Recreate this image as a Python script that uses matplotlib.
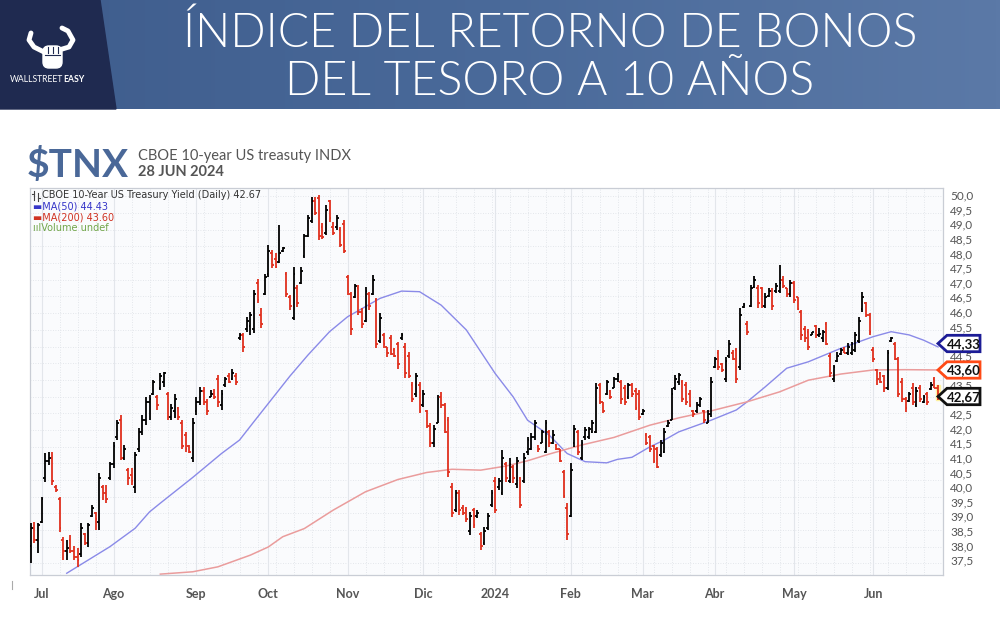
import numpy as np
import matplotlib
matplotlib.use('Agg')
import matplotlib.pyplot as plt
from matplotlib.patches import Polygon, Rectangle, FancyBboxPatch
from matplotlib.colors import LinearSegmentedColormap

# daily OHLC of $TNX, 28 Jun 2023 - 28 Jun 2024
high = [38.76, 38.82, 38.76, 39.67, 41.16, 41.21, 41.21, 40.07, 39.67, 38.30,
        38.19, 38.36, 38.00, 37.90, 38.76, 38.42, 38.76, 39.39, 39.16, 40.47,
        40.07, 40.07, 40.87, 41.56, 42.30, 42.47, 41.44, 40.64, 40.64, 41.21,
        42.01, 42.47, 43.10, 43.15, 43.67, 43.15, 43.89, 43.95, 43.26, 42.86,
        43.20, 42.75, 42.29, 41.89, 41.44, 42.35, 43.09, 43.43, 43.43, 43.03,
        43.32, 43.37, 43.83, 43.32, 43.78, 43.89, 44.06, 43.89, 45.26, 45.26,
        45.83, 46.00, 46.74, 47.14, 46.12, 47.28, 48.29, 48.12, 48.00, 48.97,
        48.23, 47.37, 46.57, 47.54, 46.92, 47.54, 48.68, 49.31, 49.94, 49.94,
        50.00, 49.03, 49.66, 49.83, 49.08, 49.31, 48.91, 49.14, 47.26, 46.69,
        46.97, 46.92, 46.12, 46.86, 46.69, 47.26, 46.46, 45.95, 45.26, 44.80,
        45.20, 44.75, 44.97, 45.26, 44.92, 44.63, 43.60, 43.89, 43.61, 43.33,
        42.64, 42.18, 42.13, 43.15, 43.27, 42.87, 42.41, 40.13, 39.90, 39.90,
        39.39, 39.33, 39.16, 39.27, 39.21, 38.47, 38.64, 39.10, 39.90, 40.36,
        40.30, 41.27, 40.87, 40.99, 40.76, 41.04, 40.36, 41.16, 41.73, 41.84,
        42.30, 41.44, 41.95, 42.30, 41.95, 41.95, 41.49, 41.32, 40.58, 39.44,
        40.81, 42.12, 41.95, 41.61, 42.06, 42.06, 42.29, 43.55, 43.55, 42.92,
        43.66, 43.32, 43.78, 43.89, 43.66, 43.49, 43.55, 43.55, 43.38, 43.32,
        42.69, 41.84, 41.78, 41.44, 41.38, 41.61, 42.01, 42.29, 43.38, 43.84,
        43.90, 43.67, 43.61, 43.33, 42.64, 42.93, 43.10, 42.64, 42.64, 43.78,
        44.47, 44.70, 44.24, 44.47, 45.04, 44.70, 44.75, 46.12, 46.29, 45.67,
        46.92, 47.21, 46.92, 46.86, 46.64, 46.81, 46.81, 46.98, 47.61, 47.21,
        46.81, 47.09, 47.04, 46.52, 46.07, 45.50, 45.40, 45.32, 45.55, 45.43,
        45.38, 45.66, 44.58, 44.18, 44.64, 44.75, 44.81, 44.92, 44.98, 45.32,
        45.83, 46.69, 46.35, 45.95, 44.81, 44.06, 43.95, 43.84, 44.69, 45.15,
        44.98, 44.46, 43.72, 43.09, 43.27, 43.55, 43.44, 43.49, 43.15, 43.27,
        43.61, 43.78, 43.49]
low = [37.39, 38.07, 37.73, 38.76, 40.19, 40.76, 40.07, 39.84, 38.47, 37.50,
       37.50, 37.73, 37.50, 37.27, 37.62, 38.02, 37.96, 38.99, 38.53, 38.53,
       39.56, 39.44, 40.24, 40.64, 41.61, 40.93, 40.93, 40.07, 40.07, 39.79,
       41.21, 41.78, 42.13, 42.30, 43.15, 42.64, 43.32, 43.43, 42.29, 42.29,
       42.35, 42.29, 41.32, 41.21, 41.15, 40.87, 42.46, 42.81, 42.81, 42.46,
       43.09, 43.03, 42.75, 42.64, 43.43, 43.55, 43.66, 43.49, 45.03, 44.63,
       45.32, 45.20, 45.26, 46.29, 45.43, 46.57, 47.20, 47.49, 47.49, 47.66,
       48.06, 46.52, 46.06, 45.72, 46.17, 46.97, 47.85, 48.57, 49.03, 49.31,
       48.46, 48.51, 48.63, 49.08, 48.63, 48.80, 48.23, 48.00, 46.57, 45.20,
       46.46, 45.89, 45.43, 45.66, 46.06, 46.57, 44.75, 44.92, 44.75, 44.46,
       44.52, 44.46, 44.06, 45.03, 43.72, 43.72, 42.92, 43.09, 42.53, 42.75,
       42.01, 41.38, 41.38, 42.18, 42.70, 41.84, 40.36, 38.99, 39.16, 39.04,
       39.04, 38.82, 38.36, 38.59, 38.93, 37.85, 38.02, 38.53, 39.33, 39.10,
       39.90, 39.73, 40.19, 40.13, 40.13, 39.96, 39.27, 40.13, 41.10, 41.27,
       41.61, 41.21, 41.50, 41.16, 41.38, 41.49, 41.27, 40.87, 39.61, 38.18,
       38.98, 41.38, 41.09, 40.92, 41.61, 41.66, 41.84, 41.84, 42.86, 42.52,
       43.15, 43.03, 43.38, 43.61, 42.86, 42.81, 43.03, 43.09, 42.64, 42.29,
       42.46, 41.44, 41.21, 40.81, 40.64, 41.04, 41.15, 42.06, 42.29, 43.33,
       43.50, 42.93, 42.81, 42.75, 42.41, 42.53, 42.75, 42.18, 42.18, 42.41,
       44.07, 44.01, 43.95, 43.61, 44.41, 44.35, 43.55, 44.01, 46.12, 45.21,
       46.18, 46.81, 46.12, 46.12, 46.12, 46.52, 46.07, 46.64, 46.64, 46.81,
       46.52, 46.52, 46.29, 46.07, 45.04, 44.98, 44.70, 45.21, 45.09, 45.15,
       44.98, 44.86, 43.78, 43.61, 44.29, 44.52, 44.58, 44.52, 44.52, 44.64,
       44.92, 46.00, 45.83, 45.21, 44.29, 43.49, 43.55, 43.27, 43.32, 44.98,
       44.35, 43.09, 42.92, 42.58, 42.92, 42.81, 42.75, 42.92, 42.87, 42.81,
       43.32, 43.38, 42.98]
open_ = [38.0, 38.6, 38.2, 38.8, 40.3, 40.9, 41.0, 40.0, 39.6, 38.2,
         37.8, 38.2, 37.8, 37.6, 37.7, 38.4, 38.1, 39.0, 39.1, 38.8,
         40.0, 39.8, 40.3, 40.8, 41.7, 42.3, 41.0, 40.6, 40.4, 40.0,
         41.3, 41.9, 42.3, 42.9, 43.2, 43.1, 43.4, 43.6, 43.2, 42.4,
         42.6, 42.7, 42.2, 41.8, 41.4, 41.0, 42.6, 42.9, 43.3, 42.9,
         43.1, 43.2, 43.7, 42.8, 43.5, 43.8, 43.7, 43.8, 45.1, 45.2,
         45.4, 45.5, 45.4, 47.0, 45.9, 46.6, 47.3, 48.0, 47.8, 47.7,
         48.1, 47.3, 46.5, 45.8, 46.8, 47.0, 47.9, 48.6, 49.1, 49.8,
         49.9, 48.9, 48.7, 49.8, 48.9, 48.9, 48.8, 49.0, 47.2, 46.6,
         46.5, 46.8, 46.0, 45.7, 46.6, 46.6, 46.4, 45.0, 45.2, 44.8,
         45.1, 44.7, 44.9, 45.1, 44.8, 44.5, 43.5, 43.2, 43.5, 42.8,
         42.6, 42.1, 41.5, 42.2, 43.1, 42.8, 42.3, 40.0, 39.2, 39.8,
         39.3, 39.2, 38.5, 39.2, 39.0, 38.4, 38.1, 38.6, 39.4, 40.2,
         40.0, 39.8, 40.8, 40.2, 40.7, 40.1, 40.3, 40.2, 41.2, 41.3,
         41.7, 41.4, 41.5, 41.2, 41.9, 41.5, 41.45, 41.3, 40.5, 39.3,
         39.0, 41.5, 41.9, 41.0, 41.7, 41.7, 41.9, 41.9, 43.5, 42.9,
         43.2, 43.3, 43.4, 43.7, 43.6, 43.4, 43.1, 43.5, 43.3, 43.2,
         42.5, 41.8, 41.7, 41.4, 41.3, 41.1, 41.2, 42.1, 42.3, 43.4,
         43.6, 43.6, 43.5, 43.2, 42.6, 42.6, 42.8, 42.6, 42.2, 42.5,
         44.1, 44.6, 44.2, 43.7, 44.5, 44.6, 44.7, 44.1, 46.15, 45.6,
         46.2, 46.85, 46.8, 46.8, 46.2, 46.55, 46.7, 46.7, 46.7, 47.1,
         46.8, 46.6, 47.0, 46.5, 46.0, 45.4, 45.3, 45.2, 45.5, 45.2,
         45.1, 45.6, 44.5, 43.7, 44.3, 44.55, 44.75, 44.6, 44.6, 44.7,
         45.0, 46.1, 46.3, 45.9, 44.7, 44.0, 43.9, 43.8, 43.4, 45.0,
         44.9, 44.4, 43.6, 43.0, 42.95, 43.4, 42.8, 43.4, 42.9, 43.2,
         43.35, 43.7, 43.4]
close = [38.6, 38.2, 38.7, 39.6, 40.9, 41.0, 40.2, 39.9, 38.6, 37.8,
         37.9, 37.8, 37.6, 37.5, 38.6, 38.1, 38.7, 39.3, 38.9, 40.3,
         39.8, 39.6, 40.8, 41.4, 42.2, 41.0, 41.3, 40.3, 40.2, 41.1,
         41.9, 42.3, 42.9, 43.0, 43.6, 42.8, 43.8, 43.9, 42.4, 42.7,
         43.0, 42.4, 41.4, 41.3, 41.2, 42.2, 42.9, 43.3, 42.9, 42.6,
         43.2, 43.1, 42.9, 43.2, 43.7, 43.6, 43.9, 43.6, 45.2, 44.8,
         45.7, 45.9, 46.6, 46.4, 45.6, 47.2, 48.1, 47.6, 47.55, 48.0,
         48.2, 46.6, 46.2, 47.3, 46.3, 47.4, 48.6, 49.2, 49.8, 49.4,
         48.6, 48.55, 49.5, 49.2, 48.7, 49.2, 48.3, 48.1, 46.7, 45.4,
         46.9, 46.0, 45.6, 46.7, 46.2, 47.1, 44.9, 45.8, 44.9, 44.6,
         44.55, 44.5, 44.2, 45.2, 43.9, 43.8, 43.0, 43.8, 42.6, 43.2,
         42.1, 41.5, 42.0, 43.0, 42.8, 41.9, 40.5, 39.1, 39.8, 39.2,
         39.1, 38.9, 39.0, 38.7, 39.1, 38.0, 38.5, 39.0, 39.8, 39.2,
         40.2, 41.0, 40.3, 40.8, 40.3, 40.9, 39.4, 41.0, 41.6, 41.7,
         42.2, 41.3, 41.9, 42.2, 41.5, 41.8, 41.3, 40.9, 39.7, 38.4,
         40.6, 42.0, 41.2, 41.5, 41.95, 42.0, 42.2, 43.4, 42.9, 42.6,
         43.6, 43.1, 43.7, 43.8, 43.0, 42.9, 43.5, 43.2, 42.7, 42.4,
         42.6, 41.5, 41.3, 40.9, 40.7, 41.5, 41.9, 42.2, 43.2, 43.7,
         43.85, 43.0, 42.9, 42.8, 42.5, 42.8, 43.0, 42.3, 42.5, 43.6,
         44.4, 44.1, 44.0, 44.3, 44.9, 44.4, 43.7, 45.9, 46.25, 45.3,
         46.8, 47.1, 46.3, 46.2, 46.5, 46.7, 46.2, 46.9, 47.0, 46.9,
         46.6, 47.0, 46.4, 46.1, 45.2, 45.1, 44.8, 45.3, 45.2, 45.25,
         45.3, 44.9, 43.9, 44.1, 44.5, 44.7, 44.6, 44.8, 44.9, 45.2,
         45.7, 46.5, 45.9, 45.3, 44.4, 43.7, 43.6, 43.4, 44.6, 45.1,
         44.4, 43.2, 43.0, 42.7, 43.2, 42.9, 43.3, 43.0, 43.1, 42.9,
         43.5, 43.4, 43.05]

# moving averages (bar index, value)
ma50_idx = [10, 22, 29, 33, 36, 45, 53, 58, 62, 72, 77, 83, 88, 97, 103, 108, 114,
            121, 129, 134, 138, 144, 149, 154, 160, 163, 167, 172, 176, 180, 189,
            196, 199, 204, 210, 216, 225, 234, 239, 244, 248, 252]
ma50_val = [37.05, 37.96, 38.59, 39.15, 39.45, 40.33, 41.15, 41.61, 42.24, 43.80,
            44.52, 45.32, 45.83, 46.46, 46.71, 46.69, 46.23, 45.38, 43.89, 43.09,
            42.29, 41.78, 41.15, 40.87, 40.83, 40.95, 41.02, 41.38, 41.61, 41.89,
            42.29, 42.64, 42.92, 43.43, 44.07, 44.29, 44.75, 45.15, 45.32, 45.21,
            45.03, 44.80]
ma200_idx = [36, 45, 52, 61, 66, 70, 76, 84, 93, 102, 110, 117, 125, 132, 138, 144,
             153, 162, 172, 180, 189, 199, 208, 216, 225, 234, 243, 252]
ma200_val = [37.02, 37.10, 37.27, 37.67, 37.95, 38.30, 38.58, 39.21, 39.84, 40.26,
             40.50, 40.61, 40.58, 40.72, 40.90, 41.13, 41.44, 41.70, 42.12, 42.37,
             42.61, 42.92, 43.26, 43.66, 43.87, 44.01, 44.02, 44.01]

month_idx = [3, 23, 46, 66, 88, 109, 129, 150, 170, 190, 212, 234]
month_lbl = ['Jul', 'Ago', 'Sep', 'Oct', 'Nov', 'Dic', '2024', 'Feb', 'Mar', 'Abr', 'May', 'Jun']
yticks = np.arange(37.5, 50.01, 0.5)
hidden_ticks = [43.0, 44.0, 45.0]   # covered by the value tags in the original

RED = '#e0301e'
W, H = 1000, 619

fig = plt.figure(figsize=(10, 6.19), dpi=100)
fig.patch.set_facecolor('white')

# background / decoration layer in pixel coords
deco = fig.add_axes([0, 0, 1, 1], zorder=0)
deco.set_xlim(0, W)
deco.set_ylim(H, 0)
deco.axis('off')

cmap = LinearSegmentedColormap.from_list('hdr', ['#3e5c8c', '#4a6a9a', '#5b79a7'])
deco.imshow(np.linspace(0, 1, 256)[None, :], cmap=cmap, aspect='auto',
            extent=[0, W, 109, 0], zorder=0)
deco.add_patch(Polygon([(0, 0), (100, 0), (116, 109), (0, 109)], closed=True,
                       color='#1f2a50', zorder=1))

# logo (simple bull fist)
deco.plot([44, 34, 29, 31], [52, 47, 40, 33], color='white', lw=3.5,
          solid_capstyle='round', zorder=2)
deco.plot([59, 69, 73, 68, 62], [50, 47, 40, 31, 28], color='white', lw=3.5,
          solid_capstyle='round', zorder=2)
deco.add_patch(FancyBboxPatch((43, 46), 19, 22, boxstyle='round,pad=0,rounding_size=6',
                              color='white', zorder=2))
for xx in (47.5, 52.5, 57.5):
    deco.plot([xx, xx], [47, 53], color='#1f2a50', lw=0.8, zorder=3)
deco.plot([45, 60], [55, 55], color='#1f2a50', lw=0.8, zorder=3)
deco.text(63, 79, 'WALLSTREET', color='white', fontsize=6.2, family='Lato',
          ha='right', va='center', zorder=3)
deco.text(63, 79, 'EASY', color='white', fontsize=6.2, family='Lato',
          fontweight='bold', ha='left', va='center', zorder=3)

# title
deco.text(550, 47, 'ÍNDICE DEL RETORNO DE BONOS', color='white', fontsize=33.5,
          family='Lato', fontweight=300, ha='center', va='baseline', zorder=3)
deco.text(550, 95, 'DEL TESORO A 10 AÑOS', color='white', fontsize=33.5,
          family='Lato', fontweight=300, ha='center', va='baseline', zorder=3)

# ticker heading
deco.text(27, 177, '$TNX', color='#4a6898', fontsize=28, family='Lato',
          fontweight='bold', ha='left', va='baseline')
deco.text(138, 160, 'CBOE 10-year US treasuty INDX', color='#555555', fontsize=10.5,
          family='Lato', ha='left', va='baseline')
deco.text(138, 176, '28 JUN 2024', color='#555555', fontsize=10.5,
          family='Lato', fontweight='bold', ha='left', va='baseline')
deco.plot([12, 12], [581, 589], color='#aaaaaa', lw=0.8)

# price chart
ax = fig.add_axes([30 / W, 1 - 575 / H, 913 / W, 387 / H], zorder=1)
ax.set_facecolor('#fafbfd')
n = len(close)
x = np.arange(n)
ax.set_xlim(-0.2, 253.4)
ax.set_ylim(36.99, 50.24)

for gy in np.arange(37.39, 50.2, 0.571):
    ax.axhline(gy, color='#dde0e6', lw=0.6, ls=(0, (1, 2)), zorder=0)
for gx in range(8, n, 5):
    ax.axvline(gx, color='#dde0e6', lw=0.6, ls=(0, (1, 2)), zorder=0)
for m in month_idx:
    ax.axvline(m, color='#e3e6eb', lw=0.8, zorder=0)

hi = np.array(high)
lo = np.array(low)
op = np.array(open_)
cl = np.array(close)
prev = np.r_[cl[0] - 0.1, cl[:-1]]
cols = np.where(cl >= prev, 'black', RED)

ax.add_patch(Rectangle((x[-1] - 0.6, lo[-1]), 1.2, hi[-1] - lo[-1],
                       color='#fff2a0', zorder=1))
ax.plot(ma50_idx, ma50_val, color='#8a8ae8', lw=1.0, zorder=2)
ax.plot(ma200_idx, ma200_val, color='#ea9c9c', lw=1.1, zorder=2)
ax.vlines(x, lo, hi, colors=cols, lw=1.3, zorder=3)
ax.hlines(op, x - 0.5, x, colors=cols, lw=1.3, zorder=3)
ax.hlines(cl, x, x + 0.5, colors=cols, lw=1.3, zorder=3)

ax.set_xticks(month_idx)
ax.set_xticklabels(month_lbl)
ax.set_yticks(yticks)
ax.set_yticklabels(['' if round(v, 1) in hidden_ticks else f'{v:.1f}'.replace('.', ',')
                    for v in yticks])
ax.yaxis.tick_right()
ax.tick_params(axis='y', length=0, pad=5, labelsize=8.5, labelcolor='#555555')
ax.tick_params(axis='x', length=0, pad=9, labelsize=9, labelcolor='#555555')
for t in ax.get_xticklabels():
    t.set_fontweight('bold')
    t.set_family('Lato')
for t in ax.get_yticklabels():
    t.set_family('Lato')
for s in ax.spines.values():
    s.set_color('#c9cdd5')
    s.set_linewidth(0.9)

# legend inside the chart (small bar icon drawn as lines)
ax.plot([0.0045, 0.0045], [0.970, 0.992], transform=ax.transAxes, color='#444444', lw=0.8)
ax.plot([0.0025, 0.0045], [0.985, 0.985], transform=ax.transAxes, color='#444444', lw=0.8)
ax.plot([0.0085, 0.0085], [0.966, 0.988], transform=ax.transAxes, color='#444444', lw=0.8)
ax.plot([0.0085, 0.0105], [0.975, 0.975], transform=ax.transAxes, color='#444444', lw=0.8)
ax.text(0.013, 0.981, 'CBOE 10-Year US Treasury Yield (Daily) 42.67', transform=ax.transAxes,
        fontsize=7, color='#333333', ha='left', va='center')
ax.text(0.003, 0.953, '▬MA(50) 44.43', transform=ax.transAxes, fontsize=7,
        color='#3535c8', ha='left', va='center')
ax.text(0.003, 0.924, '▬MA(200) 43.60', transform=ax.transAxes, fontsize=7,
        color='#d03222', ha='left', va='center')
ax.text(0.003, 0.897, 'ıılVolume undef', transform=ax.transAxes, fontsize=7,
        color='#72a64a', ha='left', va='center')

# value tags on the right edge
top = fig.add_axes([0, 0, 1, 1], zorder=5)
top.set_xlim(0, W)
top.set_ylim(H, 0)
top.axis('off')
tags = [('44,33', 343.5, '#1c1c96'), ('43,60', 370, '#ff4a16'), ('42,67', 396.5, '#111111')]
for txt, yc, ec in tags:
    hh = 8.2
    pts = [(938, yc), (947, yc - hh), (980, yc - hh), (980, yc + hh), (947, yc + hh)]
    top.add_patch(Polygon(pts, closed=True, facecolor='white', edgecolor=ec, lw=2.0))
    top.text(963.5, yc + 0.5, txt, color='#111111', fontsize=9.5, family='Lato',
             fontweight='bold', ha='center', va='center')

fig.savefig('out.png', dpi=100)
